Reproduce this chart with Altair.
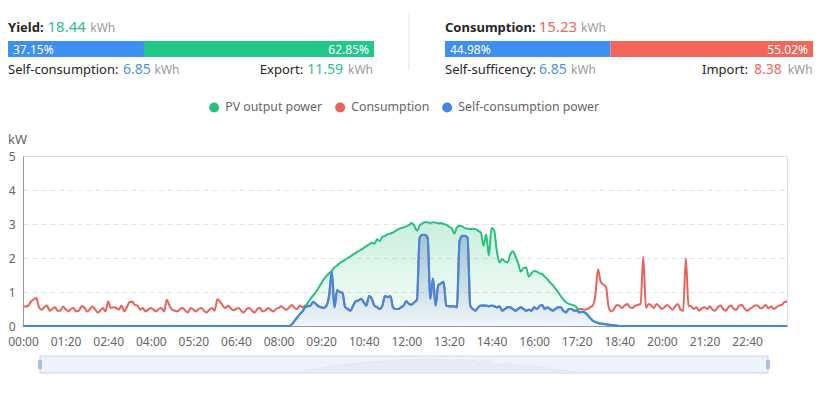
import altair as alt
import pandas as pd

# ---------------- summary figures ----------------
yield_kwh = "18.44"
self_consumption_kwh = "6.85"
export_kwh = "11.59"
consumption_kwh = "15.23"
self_sufficiency_kwh = "6.85"
import_kwh = "8.38"
yield_split = [37.15, 62.85]        # self-consumption %, export %
consumption_split = [44.98, 55.02]  # self-sufficiency %, import %

# ---------------- series ----------------
series_names = ["PV output power", "Consumption", "Self-consumption power"]
series_colors = ["#27c17d", "#e8625a", "#4287e0"]

tick_minutes = [0, 80, 160, 240, 320, 400, 480, 560, 640, 720, 800, 880, 960, 1040, 1120, 1200, 1280, 1360]
tick_labels = ["00:00", "01:20", "02:40", "04:00", "05:20", "06:40", "08:00", "09:20", "10:40",
               "12:00", "13:20", "14:40", "16:00", "17:20", "18:40", "20:00", "21:20", "22:40"]

# 5-minute samples, one row per hour (kW)
consumption_kw = [
    0.58, 0.57, 0.60, 0.72, 0.78, 0.82, 0.55, 0.48, 0.55, 0.60, 0.45, 0.50,
    0.55, 0.45, 0.45, 0.57, 0.50, 0.43, 0.50, 0.53, 0.43, 0.45, 0.58, 0.55,
    0.43, 0.48, 0.57, 0.50, 0.40, 0.45, 0.53, 0.43, 0.72, 0.53, 0.55, 0.53,
    0.48, 0.60, 0.43, 0.55, 0.70, 0.72, 0.62, 0.60, 0.48, 0.53, 0.43, 0.48,
    0.53, 0.48, 0.43, 0.50, 0.53, 0.43, 0.77, 0.60, 0.48, 0.45, 0.43, 0.50,
    0.53, 0.45, 0.40, 0.53, 0.48, 0.43, 0.50, 0.53, 0.45, 0.40, 0.48, 0.53,
    0.45, 0.79, 0.72, 0.60, 0.53, 0.60, 0.52, 0.46, 0.50, 0.53, 0.45, 0.40,
    0.50, 0.53, 0.45, 0.40, 0.50, 0.53, 0.43, 0.45, 0.53, 0.48, 0.43, 0.50,
    0.53, 0.58, 0.52, 0.48, 0.55, 0.62, 0.53, 0.50, 0.60, 0.55, 0.60, 0.58,
    0.60, 0.71, 0.65, 0.58, 0.55, 0.53, 0.60, 0.90, 1.60, 0.55, 1.05, 1.00,
    0.98, 0.56, 0.50, 0.45, 0.60, 0.73, 0.75, 0.80, 0.70, 0.60, 0.88, 0.80,
    0.60, 0.55, 0.50, 0.60, 0.88, 0.85, 0.88, 0.55, 0.50, 0.50, 0.55, 0.60,
    0.73, 0.65, 0.63, 0.70, 0.78, 2.60, 2.68, 2.68, 2.60, 0.80, 1.40, 0.60,
    1.20, 1.25, 1.30, 0.60, 0.58, 0.58, 0.58, 0.55, 2.50, 2.65, 2.65, 2.60,
    0.60, 0.50, 0.45, 0.55, 0.60, 0.60, 0.60, 0.58, 0.60, 0.58, 0.55, 0.58,
    0.45, 0.50, 0.55, 0.55, 0.50, 0.45, 0.50, 0.55, 0.50, 0.45, 0.48, 0.45,
    0.55, 0.50, 0.58, 0.62, 0.50, 0.55, 0.50, 0.45, 0.50, 0.55, 0.55, 0.45,
    0.40, 0.50, 0.50, 0.45, 0.45, 0.50, 0.50, 0.48, 0.50, 0.55, 0.60, 0.90,
    1.67, 1.30, 1.22, 1.15, 0.55, 0.43, 0.50, 0.62, 0.60, 0.53, 0.60, 0.65,
    0.55, 0.53, 0.60, 0.62, 0.65, 2.04, 0.53, 0.65, 0.60, 0.53, 0.65, 0.58,
    0.50, 0.55, 0.62, 0.55, 0.48, 0.58, 0.65, 0.48, 0.45, 1.99, 0.60, 0.58,
    0.50, 0.55, 0.45, 0.52, 0.55, 0.50, 0.58, 0.48, 0.45, 0.55, 0.60, 0.50,
    0.45, 0.55, 0.60, 0.50, 0.48, 0.60, 0.62, 0.52, 0.45, 0.50, 0.55, 0.60,
    0.60, 0.52, 0.55, 0.62, 0.52, 0.58, 0.50, 0.55, 0.60, 0.62, 0.70, 0.72,
]

pv_kw = [
    0, 0, 0, 0, 0, 0, 0, 0, 0, 0, 0, 0,
    0, 0, 0, 0, 0, 0, 0, 0, 0, 0, 0, 0,
    0, 0, 0, 0, 0, 0, 0, 0, 0, 0, 0, 0,
    0, 0, 0, 0, 0, 0, 0, 0, 0, 0, 0, 0,
    0, 0, 0, 0, 0, 0, 0, 0, 0, 0, 0, 0,
    0, 0, 0, 0, 0, 0, 0, 0, 0, 0, 0, 0,
    0, 0, 0, 0, 0, 0, 0, 0, 0, 0, 0, 0,
    0, 0, 0, 0, 0, 0, 0, 0, 0, 0, 0, 0,
    0, 0, 0, 0, 0, 0.05, 0.15, 0.25, 0.35, 0.43, 0.55, 0.68,
    0.80, 0.90, 1.00, 1.12, 1.25, 1.37, 1.47, 1.55, 1.62, 1.72, 1.78, 1.85,
    1.90, 1.95, 2.00, 2.05, 2.10, 2.15, 2.20, 2.25, 2.30, 2.35, 2.40, 2.45,
    2.42, 2.55, 2.50, 2.62, 2.65, 2.70, 2.72, 2.75, 2.80, 2.85, 2.88, 2.90,
    2.93, 2.97, 3.03, 2.95, 2.80, 2.95, 3.02, 3.05, 3.05, 3.03, 3.05, 3.04,
    3.02, 3.03, 3.00, 2.98, 2.92, 2.88, 2.72, 2.90, 2.95, 2.93, 2.88, 2.86,
    2.85, 2.86, 2.85, 2.80, 2.75, 2.36, 2.70, 2.07, 2.88, 2.80, 2.20, 1.87,
    1.97, 1.90, 1.87, 2.10, 2.20, 2.05, 1.85, 1.60, 1.70, 1.72, 1.45, 1.55,
    1.62, 1.60, 1.55, 1.53, 1.45, 1.38, 1.28, 1.20, 1.10, 1.00, 0.88, 0.78,
    0.70, 0.65, 0.63, 0.60, 0.55, 0.40, 0.42, 0.40, 0.33, 0.24, 0.16, 0.12,
    0.09, 0.07, 0.06, 0.05, 0.04, 0.03, 0.02, 0.01, 0, 0, 0, 0,
    0, 0, 0, 0, 0, 0, 0, 0, 0, 0, 0, 0,
    0, 0, 0, 0, 0, 0, 0, 0, 0, 0, 0, 0,
    0, 0, 0, 0, 0, 0, 0, 0, 0, 0, 0, 0,
    0, 0, 0, 0, 0, 0, 0, 0, 0, 0, 0, 0,
    0, 0, 0, 0, 0, 0, 0, 0, 0, 0, 0, 0,
]

self_kw = [
    0, 0, 0, 0, 0, 0, 0, 0, 0, 0, 0, 0,
    0, 0, 0, 0, 0, 0, 0, 0, 0, 0, 0, 0,
    0, 0, 0, 0, 0, 0, 0, 0, 0, 0, 0, 0,
    0, 0, 0, 0, 0, 0, 0, 0, 0, 0, 0, 0,
    0, 0, 0, 0, 0, 0, 0, 0, 0, 0, 0, 0,
    0, 0, 0, 0, 0, 0, 0, 0, 0, 0, 0, 0,
    0, 0, 0, 0, 0, 0, 0, 0, 0, 0, 0, 0,
    0, 0, 0, 0, 0, 0, 0, 0, 0, 0, 0, 0,
    0, 0, 0, 0, 0, 0.05, 0.15, 0.25, 0.35, 0.43, 0.55, 0.58,
    0.60, 0.71, 0.65, 0.58, 0.55, 0.53, 0.60, 0.90, 1.60, 0.55, 1.05, 1.00,
    0.98, 0.56, 0.50, 0.45, 0.60, 0.73, 0.75, 0.80, 0.70, 0.60, 0.88, 0.80,
    0.60, 0.55, 0.50, 0.60, 0.88, 0.85, 0.88, 0.55, 0.50, 0.50, 0.55, 0.60,
    0.73, 0.65, 0.63, 0.70, 0.78, 2.60, 2.68, 2.68, 2.60, 0.80, 1.40, 0.60,
    1.20, 1.25, 1.30, 0.60, 0.58, 0.58, 0.58, 0.55, 2.50, 2.65, 2.65, 2.60,
    0.60, 0.50, 0.45, 0.55, 0.60, 0.60, 0.60, 0.58, 0.60, 0.58, 0.55, 0.58,
    0.45, 0.50, 0.55, 0.55, 0.50, 0.45, 0.50, 0.55, 0.50, 0.45, 0.48, 0.45,
    0.55, 0.50, 0.58, 0.62, 0.50, 0.55, 0.50, 0.45, 0.50, 0.55, 0.55, 0.45,
    0.40, 0.50, 0.50, 0.45, 0.45, 0.40, 0.42, 0.40, 0.33, 0.24, 0.16, 0.12,
    0.09, 0.07, 0.06, 0.05, 0.04, 0.03, 0.02, 0.01, 0, 0, 0, 0,
    0, 0, 0, 0, 0, 0, 0, 0, 0, 0, 0, 0,
    0, 0, 0, 0, 0, 0, 0, 0, 0, 0, 0, 0,
    0, 0, 0, 0, 0, 0, 0, 0, 0, 0, 0, 0,
    0, 0, 0, 0, 0, 0, 0, 0, 0, 0, 0, 0,
    0, 0, 0, 0, 0, 0, 0, 0, 0, 0, 0, 0,
]

# ---------------- styling ----------------
FONT = "Noto Sans"
BAR_BLUE, BAR_GREEN, BAR_RED = "#3d8ff0", "#20c98a", "#f3675b"
NUM_GREEN, NUM_BLUE, NUM_RED = "#2fc08a", "#4f95dc", "#ec685d"
DARK, GRAY, AXIS_TXT = "#262626", "#9a9a9a", "#666666"

W, H = 764, 170
minutes = [5 * i for i in range(len(pv_kw))]
long_df = pd.DataFrame({
    "minute": minutes * 3,
    "value": pv_kw + consumption_kw + self_kw,
    "series": [s for s in series_names for _ in minutes],
})

label_expr = "[" + ",".join(f"'{t}'" for t in tick_labels) + "][indexof([" + \
    ",".join(str(m) for m in tick_minutes) + "], datum.value)]"

x_axis = alt.Axis(values=tick_minutes, labelExpr=label_expr, labelColor=AXIS_TXT, labelFontSize=12,
                  labelPadding=10, ticks=False, grid=False, domainColor="#9a9a9a", title=None,
                  labelFlush=False, labelOverlap=False, labelFont=FONT)
y_axis = alt.Axis(values=[0, 1, 2, 3, 4, 5], title="kW", titleAngle=0, titleX=-6, titleY=-13,
                  titleAlign="center", titleBaseline="alphabetic", titleFontSize=13,
                  titleFontWeight="normal", titleColor=AXIS_TXT, titleFont=FONT,
                  labelColor=AXIS_TXT, labelFontSize=12, labelPadding=8, ticks=False,
                  domainColor="#9a9a9a", gridColor="#e2e2e2", gridDash=[5, 4], labelFont=FONT)

x_enc = alt.X("minute:Q", scale=alt.Scale(domain=[0, 1435], nice=False, zero=False), axis=x_axis)
y_enc = alt.Y("value:Q", scale=alt.Scale(domain=[0, 5], nice=False), axis=y_axis)
color_enc = alt.Color(
    "series:N",
    scale=alt.Scale(domain=series_names, range=series_colors),
    legend=alt.Legend(orient="none", legendX=185, legendY=-55, direction="horizontal",
                      title=None, symbolType="circle", symbolSize=100, symbolStrokeWidth=0,
                      labelFontSize=12.3, labelColor=AXIS_TXT, labelFont=FONT,
                      labelOffset=5, columnPadding=11, padding=0),
)

green_grad = alt.Gradient(gradient="linear",
                          stops=[alt.GradientStop(color="rgba(39,193,125,0.25)", offset=0),
                                 alt.GradientStop(color="rgba(39,193,125,0.02)", offset=1)],
                          x1=1, x2=1, y1=0, y2=1)
blue_grad = alt.Gradient(gradient="linear",
                         stops=[alt.GradientStop(color="rgba(70,105,185,0.32)", offset=0),
                                alt.GradientStop(color="rgba(70,105,185,0.06)", offset=1)],
                         x1=1, x2=1, y1=0, y2=1)

base = alt.Chart(long_df)
legend_dots = base.transform_filter("false").mark_circle(size=100, opacity=1).encode(x_enc, y_enc, color_enc)
pv_area = base.transform_filter(alt.datum.series == series_names[0]).mark_area(
    interpolate="monotone", color=green_grad).encode(x_enc, y_enc)
self_area = base.transform_filter(alt.datum.series == series_names[2]).mark_area(
    interpolate="monotone", color=blue_grad).encode(x_enc, y_enc)
cons_line = base.transform_filter(alt.datum.series == series_names[1]).mark_line(
    interpolate="monotone", strokeWidth=2).encode(x_enc, y_enc, color_enc)
pv_line = base.transform_filter(alt.datum.series == series_names[0]).mark_line(
    interpolate="monotone", strokeWidth=2).encode(x_enc, y_enc, color_enc)
self_line = base.transform_filter(alt.datum.series == series_names[2]).mark_line(
    interpolate="monotone", strokeWidth=2.2).encode(x_enc, y_enc, color_enc)

main = alt.layer(legend_dots, pv_area, self_area, cons_line, pv_line, self_line)


# ---------------- split bars ----------------
def split_panel(split, colors, rng):
    df = pd.DataFrame({
        "start": [0, split[0]],
        "end": [split[0], 100],
        "fill": colors,
        "label": [f"{split[0]:.2f}%", f"{split[1]:.2f}%"],
    })
    xs = alt.Scale(domain=[0, 100], range=rng, nice=False, zero=False)
    c = alt.Chart(df)
    bar = c.mark_rect().encode(
        x=alt.X("start:Q", scale=xs, axis=None), x2="end:Q",
        y=alt.value(-115), y2=alt.value(-99),
        fill=alt.Fill("fill:N", scale=None))
    t_left = c.transform_filter(alt.datum.start == 0).mark_text(
        align="left", dx=5, baseline="alphabetic", fontSize=12, color="white", font=FONT
    ).encode(x=alt.X("start:Q", scale=xs, axis=None), y=alt.value(-102), text="label:N")
    t_right = c.transform_filter(alt.datum.end == 100).mark_text(
        align="right", dx=-5, baseline="alphabetic", fontSize=12, color="white", font=FONT
    ).encode(x=alt.X("end:Q", scale=xs, axis=None), y=alt.value(-102), text="label:N")
    return alt.layer(bar, t_left, t_right)


yield_panel = split_panel(yield_split, [BAR_BLUE, BAR_GREEN], [-15, 351])
cons_panel = split_panel(consumption_split, [BAR_BLUE, BAR_RED], [422, 790])

# ---------------- headline texts ----------------
bold_df = pd.DataFrame({"t": ["Yield:", "Consumption:"], "x": [-15, 422], "y": [-124, -124]})
left_df = pd.DataFrame({
    "t": [yield_kwh, "kWh", consumption_kwh, "kWh",
          "Self-consumption:", self_consumption_kwh, "kWh",
          "Self-sufficency:", self_sufficiency_kwh, "kWh"],
    "x": [24.5, 67.3, 515.7, 558, -15, 100, 131.5, 422, 516, 548],
    "y": [-124, -124, -124, -124, -82, -82, -82, -82, -82, -82],
    "c": [NUM_GREEN, GRAY, NUM_RED, GRAY, DARK, NUM_BLUE, GRAY, DARK, NUM_BLUE, GRAY],
    "s": [15, 12, 15, 12, 13, 14, 12, 13, 14, 12],
})
right_df = pd.DataFrame({
    "t": ["Export:", export_kwh, "kWh", "Import:", import_kwh, "kWh"],
    "x": [280.3, 320, 350, 725, 758.7, 789.7],
    "y": [-82] * 6,
    "c": [DARK, NUM_GREEN, GRAY, DARK, NUM_RED, GRAY],
    "s": [13, 14, 12, 13, 14, 12],
})

bold_txt = alt.Chart(bold_df).mark_text(align="left", baseline="alphabetic", fontWeight="bold",
                                        fontSize=13, color=DARK, font=FONT).encode(
    x=alt.X("x:Q", scale=None), y=alt.Y("y:Q", scale=None), text="t:N")
left_txt = alt.Chart(left_df).mark_text(align="left", baseline="alphabetic", font=FONT).encode(
    x=alt.X("x:Q", scale=None), y=alt.Y("y:Q", scale=None), text="t:N",
    fill=alt.Fill("c:N", scale=None), size=alt.Size("s:Q", scale=None))
right_txt = alt.Chart(right_df).mark_text(align="right", baseline="alphabetic", font=FONT).encode(
    x=alt.X("x:Q", scale=None), y=alt.Y("y:Q", scale=None), text="t:N",
    fill=alt.Fill("c:N", scale=None), size=alt.Size("s:Q", scale=None))

one = pd.DataFrame({"k": [0]})
divider = alt.Chart(one).mark_rule(color="#e6e6e6", strokeWidth=1).encode(
    x=alt.value(386), y=alt.value(-142), y2=alt.value(-86))

# ---------------- zoom slider ----------------
slider_box = alt.Chart(one).mark_rect(fill="#eef2fa", stroke="#cdd5e7", strokeWidth=1).encode(
    x=alt.value(17), x2=alt.value(745), y=alt.value(200), y2=alt.value(217))
sx = alt.Scale(domain=[0, 1435], range=[17, 745], nice=False, zero=False)
sy = alt.Scale(domain=[0, 3.3], range=[217, 202], nice=False)
shadow = alt.Chart(long_df).transform_filter(alt.datum.series == series_names[0]).mark_area(
    interpolate="monotone", color="#e6ebf6", stroke="#dce2ee", strokeWidth=0.6).encode(
    x=alt.X("minute:Q", scale=sx, axis=None), y=alt.Y("value:Q", scale=sy, axis=None))
handle_df = pd.DataFrame({"minute": [0, 1435]})
handles = alt.Chart(handle_df).mark_tick(orient="vertical", thickness=4, size=10, color="#8ea9d8",
                                         cornerRadius=2).encode(
    x=alt.X("minute:Q", scale=sx, axis=None), y=alt.value(208.5))
slider = alt.layer(shadow, handles)

chart = alt.layer(
    main, yield_panel, cons_panel, bold_txt, left_txt, right_txt, divider, slider_box, slider
).resolve_scale(x="independent", y="independent").properties(
    width=W, height=H,
    autosize=alt.AutoSizeParams(type="none"),
    padding={"left": 15, "top": 148, "right": 27, "bottom": 59},
    background="white",
).configure_view(stroke=None).configure(font=FONT)

chart.save("out.html", embed_options={"renderer": "svg", "actions": False})
